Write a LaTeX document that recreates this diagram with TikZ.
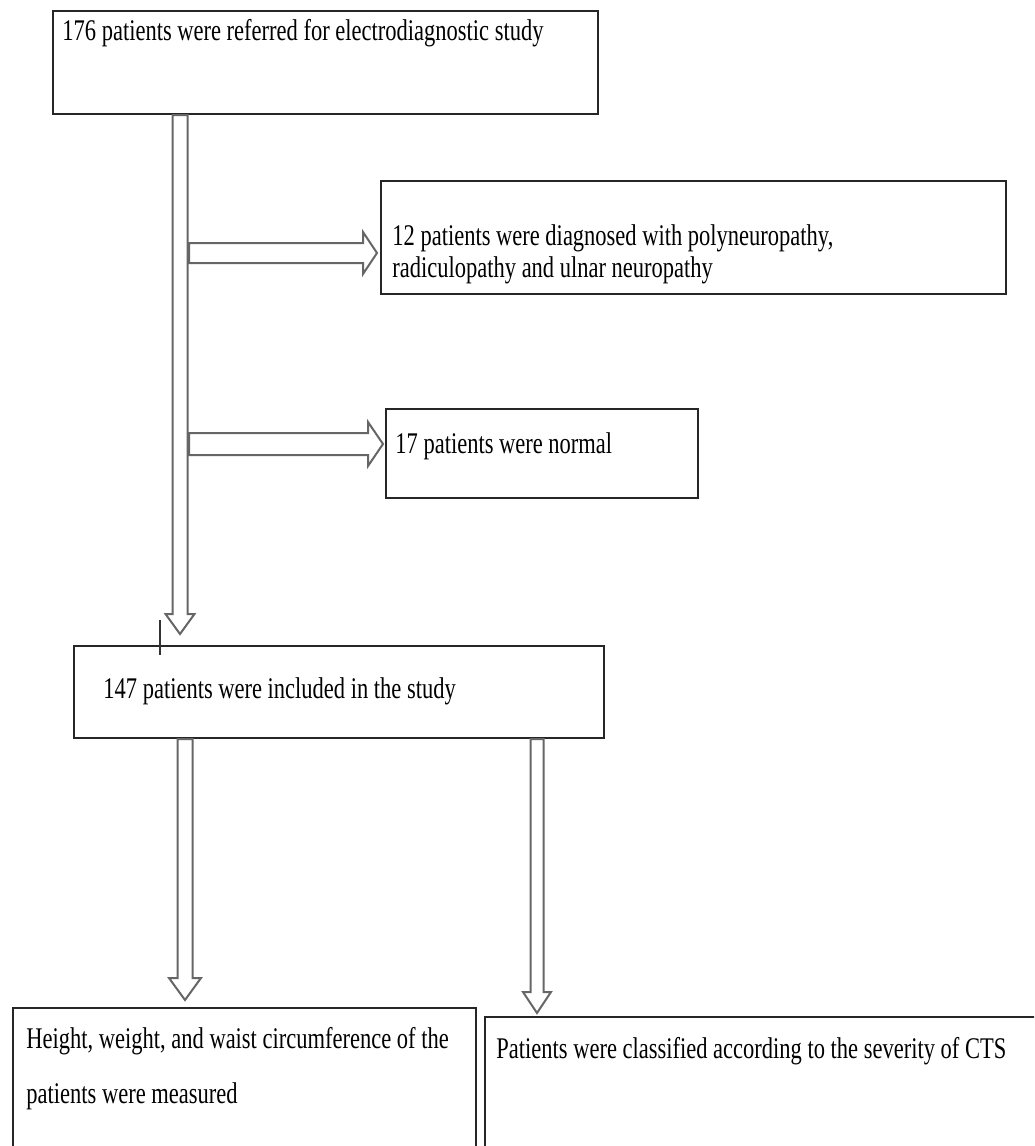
\documentclass[tikz,border=0pt]{standalone}
\usepackage{fontspec}
\setmainfont{Liberation Serif}[FakeStretch=0.75]
\usetikzlibrary{calc}
\newcommand\vblk[5]{\draw[blk] ($(#1)+(-#3,0)$) -- ($(#2)+(-#3,-#5)$) -- ($(#2)+(-#4,-#5)$) -- (#2) -- ($(#2)+(#4,-#5)$) -- ($(#2)+(#3,-#5)$) -- ($(#1)+(#3,0)$) -- cycle;}
\newcommand\hblk[5]{\draw[blk] ($(#1)+(0,-#3)$) -- ($(#2)+(-#5,-#3)$) -- ($(#2)+(-#5,-#4)$) -- (#2) -- ($(#2)+(-#5,#4)$) -- ($(#2)+(-#5,#3)$) -- ($(#1)+(0,#3)$) -- cycle;}
\begin{document}
\begin{tikzpicture}[x=0.5pt,y=-0.5pt,
  boxst/.style={draw=black!85,line width=1pt,inner sep=0pt,anchor=north west},
  blk/.style={draw=black!60,line width=1pt,fill=white,line join=miter},
  txt/.style={anchor=base west,inner sep=0pt,font=\fontsize{15}{17}\selectfont},
]
\path[use as bounding box] (0,0) rectangle (1034,1146);
\clip (0,0) rectangle (1034,1146);
\fill[white] (0,0) rectangle (1034,1146);

% boxes
\node[boxst,minimum width=272.5pt,minimum height=51.5pt] (b1) at (52,10) {};
\node[boxst,minimum width=312.5pt,minimum height=56.5pt] (b2) at (380,180) {};
\node[boxst,minimum width=156pt,minimum height=44.5pt] (b3) at (385,408) {};
\node[boxst,minimum width=265pt,minimum height=46pt] (b4) at (73,645) {};
\node[boxst,minimum width=231.5pt,minimum height=100pt] (b5) at (12,1007) {};
\node[boxst,minimum width=300pt,minimum height=100pt] (b6) at (484,1016) {};

% texts
\node[txt] (t1) at (62,40) {176 patients were referred for electrodiagnostic study};
\node[txt] (t2a) at (392,245) {12 patients were diagnosed with polyneuropathy,};
\node[txt] (t2b) at (392,277) {radiculopathy and ulnar neuropathy};
\node[txt] (t3) at (395,453) {17 patients were normal};
\node[txt] (t4) at (103,698) {147 patients were included in the study};
\node[txt] (t5a) at (26,1048) {Height, weight, and waist circumference of the};
\node[txt] (t5b) at (26,1103) {patients were measured};
\node[txt] (t6) at (496,1058) {Patients were classified according to the severity of CTS};

% arrow anchor points
\coordinate (a1s) at ($(b1.south west)+(128,0)$);
\coordinate (a1t) at ($(b4.north west)+(107,-11)$);
\coordinate (h1s) at (189,253);
\coordinate (h1t) at ($(b2.north west)+(-3,73)$);
\coordinate (h2s) at (189,444);
\coordinate (h2t) at ($(b3.north west)+(-2,36)$);
\coordinate (a2s) at ($(b4.south west)+(112,0)$);
\coordinate (a2t) at ($(b5.north west)+(173,-7)$);
\coordinate (a3s) at ($(b4.south west)+(464,0)$);
\coordinate (a3t) at ($(b6.north west)+(53,-3)$);

% block arrows
\vblk{a1s}{a1t}{7.5}{14.5}{20}
\hblk{h1s}{h1t}{10}{21}{14}
\hblk{h2s}{h2t}{11}{22}{15}
\vblk{a2s}{a2t}{7.5}{16}{22}
\vblk{a3s}{a3t}{6.5}{14}{21}

% stray tick mark
\coordinate (k1) at ($(b4.north west)+(87,-25)$);
\coordinate (k2) at ($(b4.north west)+(87,10)$);
\draw[line width=0.6pt,black!80] (k1) -- (k2);
\end{tikzpicture}
\end{document}
